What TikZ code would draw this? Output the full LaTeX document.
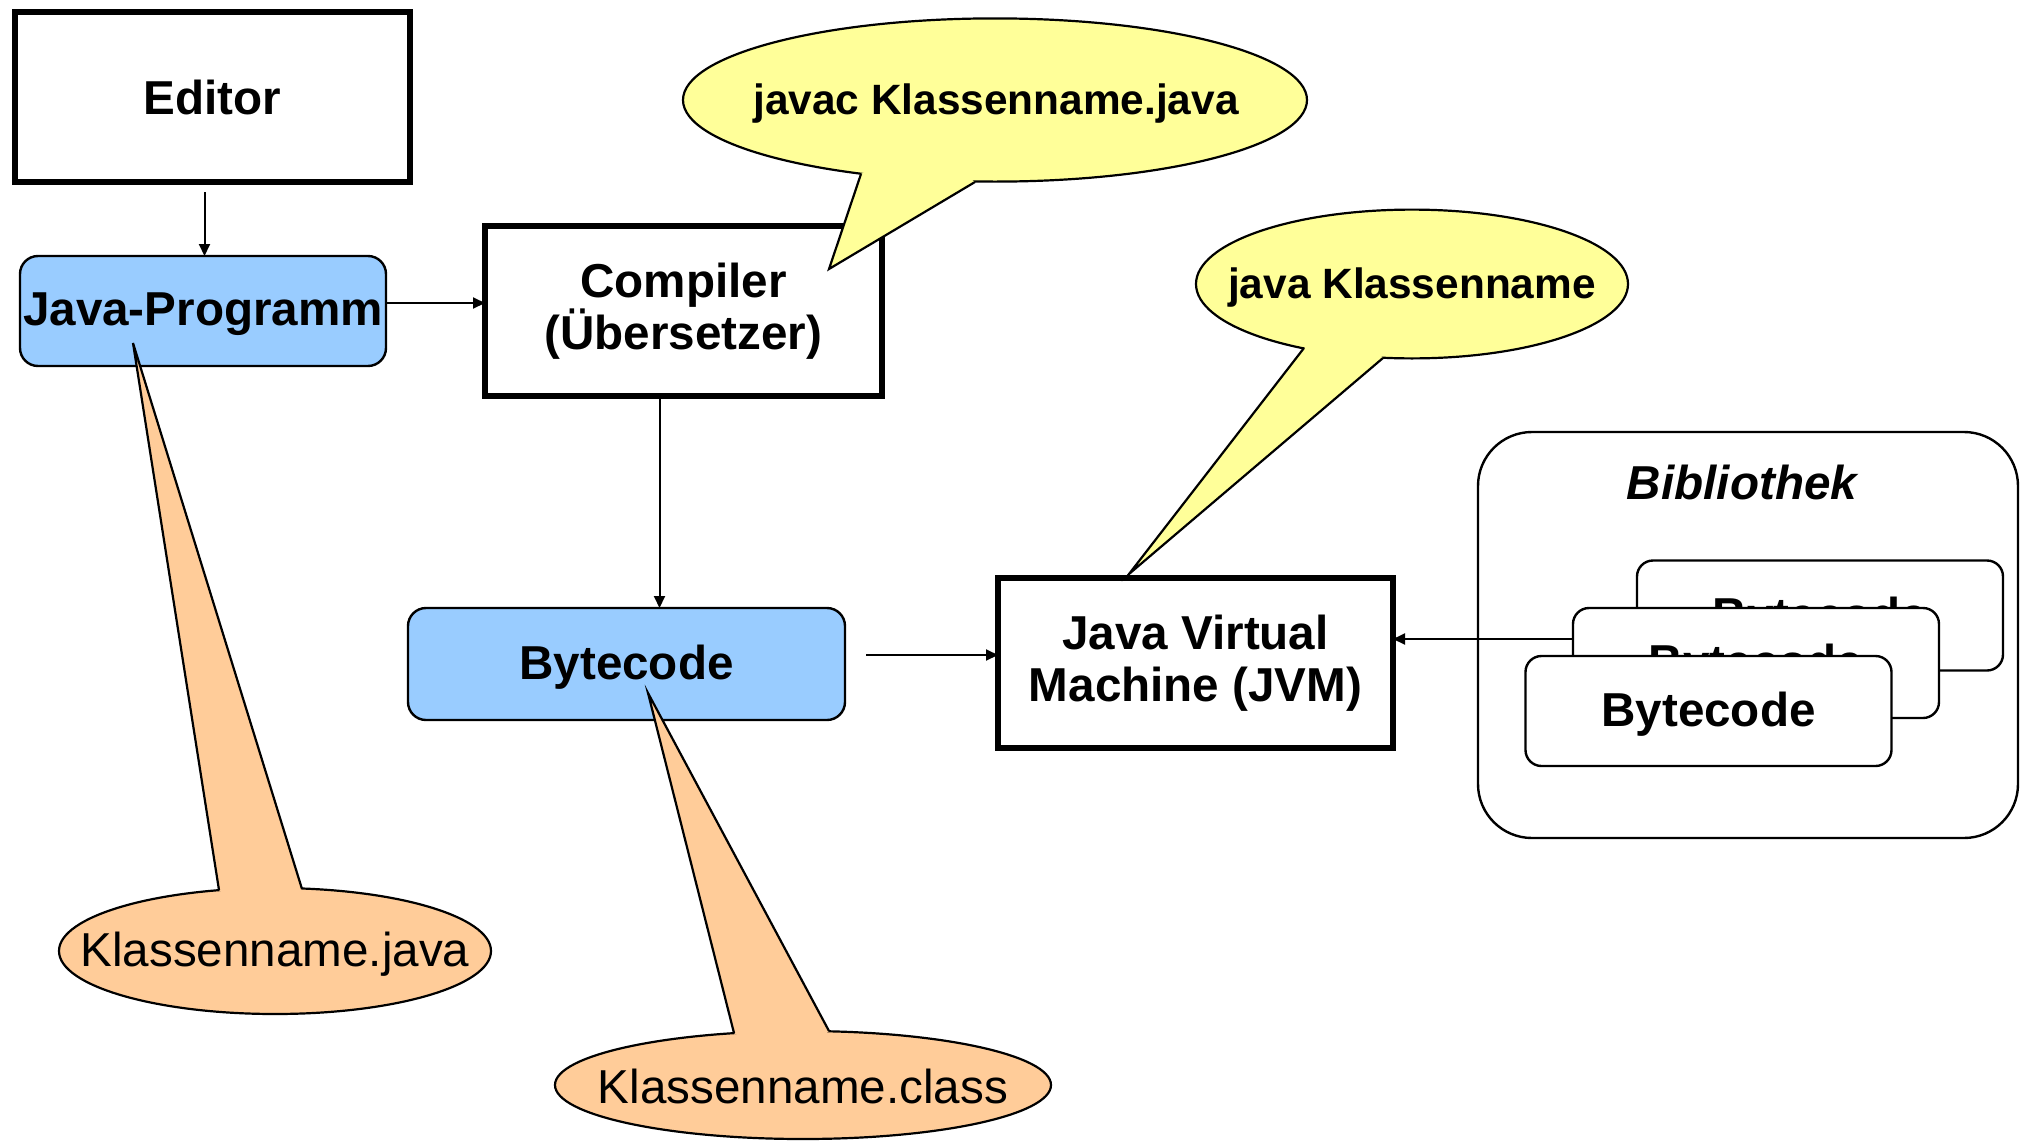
\documentclass[tikz,border=0pt]{standalone}
\usepackage{fontspec}
\setmainfont{Liberation Sans}
\usetikzlibrary{arrows.meta,calc}
\definecolor{boxblue}{HTML}{99CCFF}
\definecolor{callyellow}{HTML}{FFFF99}
\definecolor{callorange}{HTML}{FFCC99}
\newcommand{\lowtxt}[1]{\raisebox{-1.8pt}[\height][\depth]{#1}}
\tikzset{
  bigfont/.style={font=\fontsize{23.8}{25.8}\selectfont\bfseries},
  thickbox/.style={draw=black, line width=3.3pt, fill=white, inner sep=0pt, outer sep=0pt, align=center, bigfont},
  bluebox/.style={draw=black, line width=1.2pt, fill=boxblue, rounded corners=9pt, inner sep=0pt, outer sep=0pt, bigfont},
  libbox/.style={draw=black, line width=1.2pt, fill=white, rounded corners=8pt, inner sep=0pt, outer sep=0pt, bigfont,
     minimum width=183pt, minimum height=55pt},
  arr/.style={line width=1pt, -{Triangle[length=6pt,width=5.5pt]}},
  callline/.style={line width=1.1pt, line join=miter},
  ytext/.style={font=\fontsize{21.2}{24}\selectfont\bfseries},
  otext/.style={font=\fontsize{23.8}{26}\selectfont},
}
\begin{document}
\begin{tikzpicture}[x=0.5pt,y=-0.5pt]
\useasboundingbox (0,0) rectangle (2031,1141);
% main boxes
\node[thickbox, minimum width=197.5pt, minimum height=85pt] (Editor) at (212.5,97) {Editor};
\node[bluebox, minimum width=183pt, minimum height=55pt] (JP) at (203,311) {\lowtxt{Java-Programm}};
\node[thickbox, minimum width=198.5pt, minimum height=85pt] (Comp) at (683.5,311) {Compiler\\(Übersetzer)};
\node[bluebox, minimum width=218.5pt, minimum height=56pt] (BC) at (626.5,664) {\lowtxt{Bytecode}};
\node[thickbox, minimum width=197.5pt, minimum height=85pt] (JVM) at (1195.5,663) {Java Virtual\\Machine (JVM)};
% library
\node[draw=black, line width=1.2pt, rounded corners=27pt, minimum width=270pt, minimum height=203pt, inner sep=0pt, outer sep=0pt] (Lib) at (1748,635) {};
\node[font=\fontsize{23.8}{26}\selectfont\bfseries\itshape] (LibT) at (1742,482) {Bibliothek};
\node[libbox] (Back) at (1820,615.5) {\lowtxt{Bytecode}};
\node[libbox] (Mid) at (1756,663) {\lowtxt{Bytecode}};
\node[libbox] (Front) at (1708.5,711) {\lowtxt{Bytecode}};
% connectors
\coordinate (EdOut) at ($(Editor.south)+(-8,10)$);
\draw[arr] (EdOut) -- (EdOut |- JP.north);
\coordinate (JPOut) at ($(JP.east)+(0,-8)$);
\draw[arr] (JPOut) -- (JPOut -| Comp.west);
\coordinate (CompOut) at ($(Comp.south)+(-24,0)$);
\draw[arr] (CompOut) -- (CompOut |- BC.north);
\coordinate (BCOut) at ($(BC.east)+(21,-9)$);
\draw[arr] (BCOut) -- (BCOut -| JVM.west);
\coordinate (MidOut) at ($(Mid.west)+(0,-24)$);
\draw[arr] (MidOut) -- (MidOut -| JVM.east);
% callout: javac
\path[fill=callyellow, draw=black, line width=1.1pt] (995,100) ellipse [x radius=156pt, y radius=40.8pt];
\fill[callyellow] (861,174) -- (829,269) -- (975,182) -- (918,140) -- cycle;
\draw[callline] (861,174) -- (829,269) -- (975,182);
\node[ytext] (Tjavac) at (996,104) {javac Klassenname.java};
% callout: java
\path[fill=callyellow, draw=black, line width=1.1pt] (1412,284) ellipse [x radius=108pt, y radius=37.2pt];
\fill[callyellow] (1304,348) -- (1129,574) -- (1383,358) -- (1345,320) -- cycle;
\draw[callline] (1304,348) -- (1129,574) -- (1383,358);
\node[ytext] (Tjava) at (1412,288) {java Klassenname};
% callout: Klassenname.java
\path[fill=callorange, draw=black, line width=1.1pt] (275,951) ellipse [x radius=108pt, y radius=31.5pt];
\fill[callorange] (219,890) -- (133,343) -- (302,889) -- (262,925) -- cycle;
\draw[callline] (219,890) -- (133,343) -- (302,889);
\node[otext] (Tkjava) at (275,954) {Klassenname.java};
% callout: Klassenname.class
\path[fill=callorange, draw=black, line width=1.1pt] (803,1085) ellipse [x radius=124pt, y radius=27pt];
\fill[callorange] (734,1033) -- (648,693) -- (829,1031) -- (785,1065) -- cycle;
\draw[callline] (734,1033) -- (648,693) -- (829,1031);
\node[otext] (Tkclass) at (803,1086) {Klassenname.class};
\end{tikzpicture}
\end{document}
